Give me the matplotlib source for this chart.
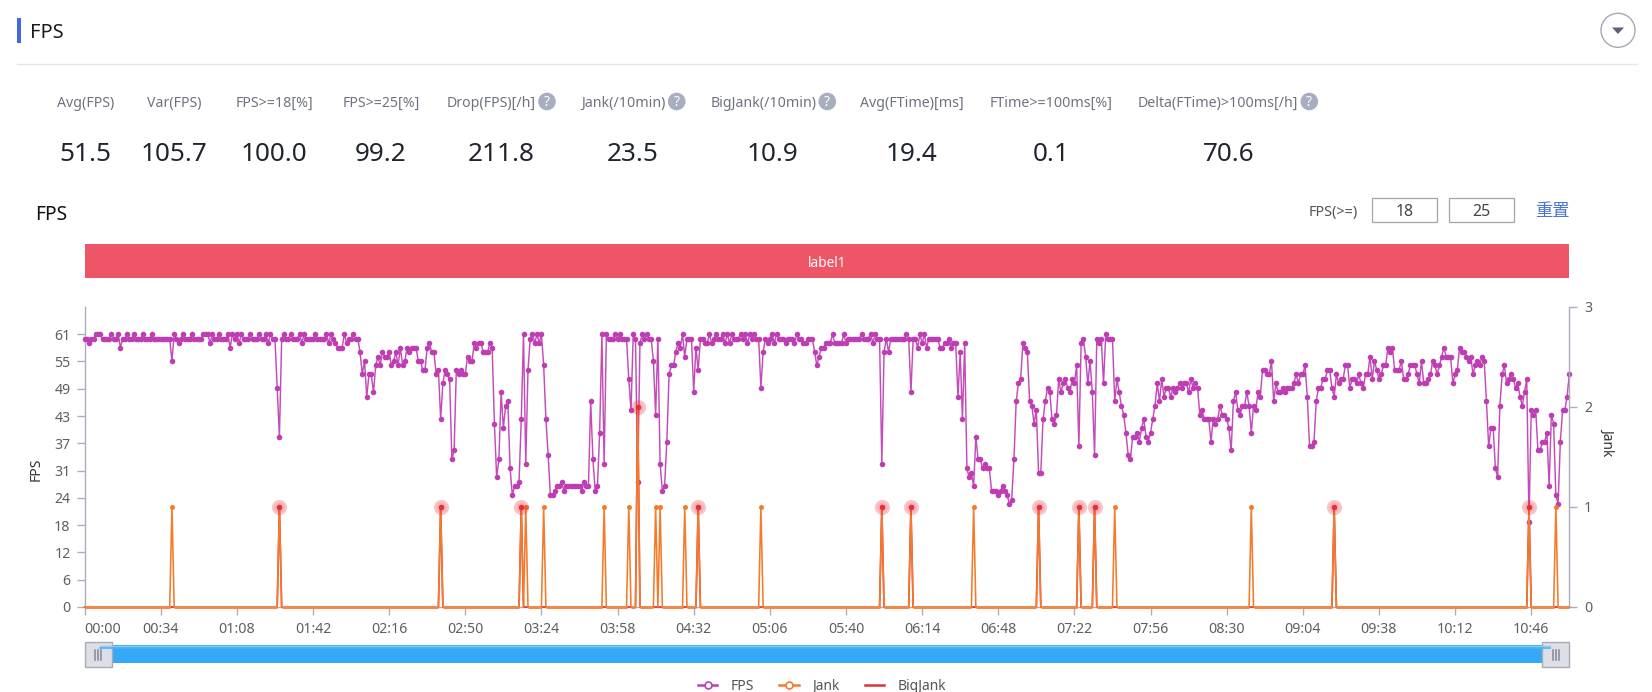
import numpy as np
import matplotlib
matplotlib.use("Agg")
import matplotlib.pyplot as plt
from matplotlib.lines import Line2D
from matplotlib.patches import Rectangle, Circle, Polygon

plt.rcParams['font.family'] = ['Noto Sans', 'Noto Sans CJK SC', 'DejaVu Sans']

# ---- data ----
fps_000 = [60,60,59,60,60,61,61,61,60,60,60,60,61,60,60,61,58,60,60,61,
           60,60,61,60,60,60,61,60,60,60,61,60,60,60,60,60,60,60,60,55,
           61,60,59,60,61,60,60,60,61,60,60,60,60,61,61,61,59,61,60,60,
           61,60,60,60,61,58,61,60,61,59,61,60,60,60,61,60,60,60,61,60,
           60,61,59,61,60,60,49,38,60,61,60,60,61,60,60,60,61,59,61,60]
fps_100 = [60,60,60,61,60,60,60,60,61,59,61,60,59,58,58,58,61,59,60,60,
           61,60,60,57,52,55,47,52,52,48,54,56,54,57,56,56,57,54,55,57,
           54,58,54,55,58,57,58,58,58,55,55,53,53,58,59,57,57,52,53,42,
           50,53,52,51,33,35,53,52,53,52,52,56,55,55,59,58,59,59,57,57,
           57,59,58,41,29,33,48,40,45,46,31,25,27,27,28,42,61,32,53,60]
fps_200 = [61,59,61,59,61,54,42,34,25,25,26,27,27,28,26,27,27,27,27,27,
           27,27,26,28,27,27,46,33,26,27,39,61,32,61,60,60,60,61,60,61,
           60,60,60,51,44,61,60,28,59,61,60,61,60,60,55,43,60,32,26,27,
           37,52,54,54,57,59,58,61,56,60,60,60,48,58,53,60,60,59,59,61,
           59,60,61,60,60,61,59,61,59,61,60,60,60,61,60,61,59,61,60,61]
fps_300 = [60,60,49,57,60,59,60,61,59,61,60,60,60,59,60,60,60,59,61,60,
           60,59,59,60,60,60,57,54,56,58,58,59,59,59,61,59,59,59,59,61,
           59,60,60,60,60,60,60,61,60,60,60,61,59,61,60,60,32,57,60,57,
           60,60,60,60,60,60,60,61,60,48,60,60,58,61,59,61,58,60,60,60,
           60,60,58,58,59,59,60,58,59,59,47,57,42,59,31,29,30,27,38,33]
fps_400 = [33,31,32,31,31,26,26,26,25,26,27,26,25,23,24,33,46,50,51,59,
           58,57,46,45,41,44,30,30,42,46,49,48,42,41,43,51,48,50,51,49,
           48,51,50,54,36,59,60,56,50,55,48,34,60,59,60,50,61,60,60,60,
           46,51,48,45,43,39,34,33,38,38,39,37,40,42,38,37,39,42,45,50,
           46,51,47,49,49,47,49,48,49,50,49,50,50,48,51,49,50,49,43,44]
fps_500 = [42,42,42,37,42,41,42,45,43,43,42,40,35,46,48,44,43,45,45,48,
           45,39,45,44,48,47,53,53,52,52,55,46,50,48,48,49,48,49,49,49,
           50,52,50,52,52,54,47,36,36,37,46,49,49,51,51,53,53,49,47,52,
           50,51,51,54,54,49,51,51,50,52,50,49,52,52,56,51,55,53,51,52,
           54,54,58,57,58,53,53,53,55,51,51,52,54,54,54,52,50,55,50,50]
fps_600 = [51,52,55,54,52,54,56,58,56,56,56,50,52,53,58,57,57,56,55,56,
           52,54,55,54,56,55,46,36,40,40,31,29,45,52,54,50,51,52,51,49,
           50,47,45,48,51,19,44,43,44,35,35,37,37,39,27,43,41,25,23,37,
           44,44,47,52]
fps_values = fps_000 + fps_100 + fps_200 + fps_300 + fps_400 + fps_500 + fps_600

jank_seconds = [39,87,159,195,197,205,232,243,247,255,257,268,274,302,356,369,
                397,426,444,451,460,521,558,645,657]
jank_counts  = [1,1,1,1,1,1,1,1,2,1,1,1,1,1,1,1,1,1,1,1,1,1,1,1,1]
bigjank_seconds = [87,159,195,247,274,356,369,426,444,451,558,645]

x_tick_labels = ['00:00','00:34','01:08','01:42','02:16','02:50','03:24','03:58',
                 '04:32','05:06','05:40','06:14','06:48','07:22','07:56','08:30',
                 '09:04','09:38','10:12','10:46']
x_tick_seconds = [0,34,68,102,136,170,204,238,272,306,340,374,408,442,476,510,544,578,612,646]
fps_tick_values = [0,6.1,12.2,18.3,24.4,30.5,36.6,42.7,48.8,54.9,61]
fps_tick_labels = ['0','6','12','18','24','31','37','43','49','55','61']
jank_ticks = [0,1,2,3]
fps_max = 67.1

stat_values = ['51.5','105.7','100.0','99.2','211.8','23.5','10.9','19.4','0.1','70.6']
stat_labels = ['Avg(FPS)','Var(FPS)','FPS>=18[%]','FPS>=25[%]','Drop(FPS)[/h]','Jank(/10min)',
               'BigJank(/10min)','Avg(FTime)[ms]','FTime>=100ms[%]','Delta(FTime)>100ms[/h]']

# ---- colours / layout ----
W, H = 1652, 692
C_FPS, C_JANK, C_BIG = '#bf3db3', '#f47a2c', '#e62f38'
C_AXIS = '#a9aebd'
C_TICK = '#5f5f5f'

fig = plt.figure(figsize=(W/100, H/100), dpi=100, facecolor='white')

def px_axes(l, t, r, b, **kw):
    return fig.add_axes([l/W, 1-b/H, (r-l)/W, (b-t)/H], **kw)

# ---- page furniture ----
ui = fig.add_axes([0, 0, 1, 1], zorder=0)
ui.set_xlim(0, W); ui.set_ylim(H, 0); ui.axis('off')

ui.add_patch(Rectangle((17, 18), 4, 25, color='#4169e1', lw=0))
ui.text(30, 32.5, 'FPS', fontsize=14.4, color='#1c1c1c', va='center', ha='left', weight='medium')
ui.plot([17, 1637], [64.3, 64.3], color='#e6e6e6', lw=1)
ui.add_patch(Circle((1618, 30.3), 17, fc='white', ec='#a6a9b5', lw=1))
ui.add_patch(Polygon([[1612, 27.5], [1624, 27.5], [1618, 34]], closed=True, fc='#5d6278', ec='none'))

label_x = [85.7, 174.3, 274.3, 381, 491, 623.3, 763.3, 911.8, 1050.8, 1218.3]
value_x = [85.7, 174.3, 274.3, 381, 501, 632.7, 772.7, 911.7, 1050.7, 1228.3]
help_x = {4: 547, 5: 676.7, 6: 827.3, 9: 1309.3}
for i, (lab, val) in enumerate(zip(stat_labels, stat_values)):
    ui.text(label_x[i], 103.2, lab, fontsize=10.2, color='#6f7380', ha='center', va='center')
    ui.text(value_x[i], 154.8, val, fontsize=18.8, color='#20242c', ha='center', va='center', weight='medium')
for i, hx in help_x.items():
    ui.add_patch(Circle((hx, 101.5), 8.8, fc='#a9adc0', ec='none'))
    ui.text(hx, 102.3, '?', fontsize=10, color='white', ha='center', va='center', weight='bold')

ui.text(35, 215.5, 'FPS', fontsize=13.8, color='#111111', ha='left', va='center', weight='medium')
ui.text(1309, 212.5, 'FPS(>=)', fontsize=10.4, color='#555555', ha='left', va='center')
for left, txt in [(1372.3, '18'), (1449.3, '25')]:
    ui.add_patch(Rectangle((left, 198.3), 65, 24, fc='white', ec='#a5a5a5', lw=0.9))
    ui.text(left+32.5, 212, txt, fontsize=11.4, color='#444444', ha='center', va='center')
ui.text(1552.5, 211, '重置', fontsize=12.4, color='#4b72d8', ha='center', va='center')

ui.add_patch(Rectangle((84.6, 244.3), 1569.3-84.6, 33.7, fc='#ee5667', ec='none'))
ui.text(826.7, 263.5, 'label1', fontsize=9.8, color='white', ha='center', va='center')

# data zoom slider
ui.add_patch(Rectangle((100, 645), 1450, 18.3, fc='#33a9f8', ec='none'))
ui.plot([100, 1550], [645.5, 645.5], color='#8ecaf2', lw=1)
ui.plot([100, 1550], [647.5, 647.5], color='#4fb2f2', lw=1.2)
for hl, hr in [(84.8, 111.6), (1542.3, 1569.3)]:
    ui.add_patch(Rectangle((hl, 642.3), hr-hl, 24.4, fc='#dcdfe6', ec='#a8aab4', lw=1))
    c = (hl+hr)/2
    for dx in (-3, 0, 3):
        ui.plot([c+dx, c+dx], [649.5, 659.5], color='#83879a', lw=1.1)

# ---- chart axes ----
ax = px_axes(84.6, 306.9, 1569.3, 607, zorder=2)
ax.patch.set_alpha(0)
ax2 = ax.twinx()
ax2.set_zorder(3)
ax2.patch.set_alpha(0)

sec = np.arange(len(fps_values))
jank = np.zeros(len(sec))
jank[jank_seconds] = jank_counts
big = np.zeros(len(sec))
big[bigjank_seconds] = jank[bigjank_seconds]

ax.plot(sec, fps_values, color='#c44cb9', lw=1.05, marker='o', ms=4.0,
        mfc=C_FPS, mec=C_FPS, mew=0, clip_on=False, zorder=3)

ax2.plot(sec, big, color=C_BIG, lw=1.2, clip_on=False, zorder=2)
ax2.plot(sec, jank, color=C_JANK, lw=1.15, clip_on=False, zorder=3)
ax2.plot(sec, np.where(jank == 0, 0.0, np.nan), color='#f08848', lw=2.2, clip_on=False,
         solid_capstyle='butt', zorder=3)
peak = jank > 0
ax2.plot(sec[peak], jank[peak], ls='', marker='o', ms=3.6, color=C_JANK, mew=0, zorder=4)
ax2.plot(bigjank_seconds, big[bigjank_seconds], ls='', marker='o', ms=11, color=C_BIG,
         alpha=0.27, mew=0, zorder=5)
ax2.plot(bigjank_seconds, big[bigjank_seconds], ls='', marker='o', ms=7.5, color=C_BIG,
         alpha=0.12, mew=0, zorder=5)
ax2.plot(bigjank_seconds, big[bigjank_seconds], ls='', marker='o', ms=4, color=C_BIG,
         mew=0, zorder=6)

ax.set_xlim(0, sec[-1])
ax.set_ylim(0, fps_max)
ax2.set_ylim(0, 3)

ax.set_yticks(fps_tick_values, fps_tick_labels)
ax.set_xticks(x_tick_seconds, x_tick_labels)
ax2.set_yticks(jank_ticks, [str(v) for v in jank_ticks])

for a in (ax, ax2):
    for s in a.spines.values():
        s.set_visible(False)
    a.tick_params(axis='both', colors=C_AXIS, labelcolor=C_TICK, labelsize=10.2,
                  length=5.6, width=1.0)
ax.spines['left'].set_visible(True)
ax.spines['bottom'].set_visible(True)
ax2.spines['right'].set_visible(True)
for s in (ax.spines['left'], ax.spines['bottom'], ax2.spines['right']):
    s.set_color(C_AXIS); s.set_linewidth(1.0)
ax.tick_params(axis='y', pad=4.5)
ax2.tick_params(axis='y', pad=5)
ax.tick_params(axis='x', pad=5)
lbls = ax.get_xticklabels()
lbls[0].set_ha('left')

ax.set_ylabel('FPS', fontsize=10, color='#333333', va='center')
ax.yaxis.set_label_coords((35.7-84.6)/(1569.3-84.6), (607-469)/(607-306.9))
ax2.set_ylabel('Jank', fontsize=10, color='#333333', rotation=270, va='center')
ax2.yaxis.set_label_coords((1608-84.6)/(1569.3-84.6), (607-441.7)/(607-306.9))

handles = [Line2D([], [], color=C_FPS, lw=1.8, marker='o', ms=5, mfc='white', mec=C_FPS, mew=1.2),
           Line2D([], [], color=C_JANK, lw=1.8, marker='o', ms=5, mfc='white', mec=C_JANK, mew=1.2),
           Line2D([], [], color='#d8343c', lw=1.8)]
leg = fig.legend(handles, ['FPS', 'Jank', 'BigJank'], loc='center',
                 bbox_to_anchor=(822/W, 1-686.5/H), ncol=3, frameon=False, fontsize=10,
                 handlelength=1.4, handletextpad=0.96, columnspacing=1.82, borderpad=0,
                 labelcolor='#555555')

fig.savefig('out.png', dpi=100, facecolor='white')
